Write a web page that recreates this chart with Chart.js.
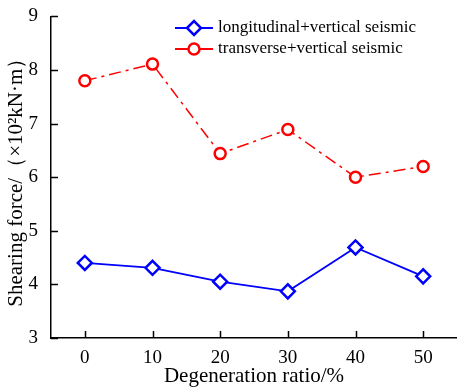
<!DOCTYPE html>
<html>
<head>
<meta charset="utf-8">
<script src="https://cdn.jsdelivr.net/npm/chart.js@4.4.0/dist/chart.umd.min.js"></script>
<style>
  html, body { margin: 0; padding: 0; background: #fff; overflow: hidden; }
</style>
</head>
<body>
<canvas id="chart" width="457" height="389"></canvas>
<script>
// degeneration ratio (%)
const ratios = [0, 10, 20, 30, 40, 50];
// shearing force, x10^2 kN·m
const longitudinal = [4.40, 4.31, 4.05, 3.87, 4.69, 4.15];
const transverse = [7.80, 8.11, 6.44, 6.89, 6.00, 6.20];
const yTicks = [3, 4, 5, 6, 7, 8, 9];
const seriesNames = ['longitudinal+vertical seismic', 'transverse+vertical seismic'];

const serif = "'Liberation Serif', 'Times New Roman', serif";

function toPoints(vals) {
    return ratios.map((r, i) => ({ x: r, y: vals[i] }));
}

// ticks pointing into the plot
const innerTicks = {
    id: 'innerTicks',
    afterDraw(chart) {
        const ctx = chart.ctx;
        const xs = chart.scales.x, ys = chart.scales.y;
        const area = chart.chartArea;
        ctx.save();
        ctx.strokeStyle = '#000';
        ctx.lineWidth = 1.5;
        ctx.beginPath();
        ratios.forEach(r => {
            const px = Math.round(xs.getPixelForValue(r)) + 0.5;
            ctx.moveTo(px, area.bottom);
            ctx.lineTo(px, area.bottom - 7);
        });
        yTicks.forEach(v => {
            const py = Math.round(ys.getPixelForValue(v)) + 0.5;
            ctx.moveTo(area.left, py);
            ctx.lineTo(area.left + 7, py);
        });
        ctx.stroke();
        ctx.restore();
    }
};

// legend with line + marker like the original figure
const lineLegend = {
    id: 'lineLegend',
    afterDraw(chart) {
        const ctx = chart.ctx;
        const x0 = 175, x1 = 213, y0 = 28, gap = 21;
        ctx.save();
        chart.data.datasets.forEach((ds, i) => {
            const y = y0 + i * gap;
            ctx.strokeStyle = ds.borderColor;
            ctx.lineWidth = 2;
            ctx.beginPath();
            ctx.moveTo(x0, y);
            ctx.lineTo(x1, y);
            ctx.stroke();
            ctx.lineWidth = ds.pointBorderWidth;
            ctx.fillStyle = '#fff';
            Chart.helpers.drawPoint(ctx, {
                pointStyle: ds.pointStyle,
                radius: ds.pointRadius,
                borderWidth: ds.pointBorderWidth
            }, (x0 + x1) / 2, y);
            ctx.fillStyle = '#000';
            ctx.font = '17px ' + serif;
            ctx.textBaseline = 'middle';
            ctx.fillText(ds.label, x1 + 5, y);
        });
        ctx.restore();
    }
};

new Chart(document.getElementById('chart'), {
    type: 'line',
    data: {
        datasets: [{
            label: seriesNames[0],
            data: toPoints(longitudinal),
            borderColor: '#0000ff',
            borderWidth: 1.8,
            pointStyle: 'rectRot',
            pointRadius: 7,
            pointBorderWidth: 2.5,
            pointBackgroundColor: '#fff',
            pointBorderColor: '#0000ff',
            tension: 0
        },
        {
            label: seriesNames[1],
            data: toPoints(transverse),
            borderColor: '#ff0000',
            borderWidth: 1.5,
            borderDash: [12, 5, 3, 5],
            pointStyle: 'circle',
            pointRadius: 5.5,
            pointBorderWidth: 2.5,
            pointBackgroundColor: '#fff',
            pointBorderColor: '#ff0000',
            tension: 0
        }]
    },
    options: {
        responsive: false,
        animation: false,
        layout: { autoPadding: false, padding: { top: 15, right: 0, left: 0, bottom: 0 } },
        plugins: {
            legend: { display: false },
            tooltip: { enabled: false }
        },
        scales: {
            x: {
                type: 'linear',
                min: -5,
                max: 55,
                afterBuildTicks: s => { s.ticks = ratios.map(v => ({ value: v })); },
                afterFit: s => { s.height = 51; },
                border: { display: true, color: '#000', width: 1.5 },
                grid: { display: false },
                ticks: { color: '#000', font: { family: serif, size: 19 }, padding: 1, maxRotation: 0 },
                title: {
                    display: true,
                    text: 'Degeneration ratio/%',
                    color: '#000',
                    font: { family: serif, size: 21 },
                    padding: { top: 0, bottom: 0 }
                }
            },
            y: {
                min: 3,
                max: 9,
                afterBuildTicks: s => { s.ticks = yTicks.map(v => ({ value: v })); },
                afterFit: s => { s.width = 51; },
                border: { display: true, color: '#000', width: 1.5 },
                grid: { display: false },
                ticks: { color: '#000', font: { family: serif, size: 19 }, padding: 5 },
                title: {
                    display: true,
                    text: 'Shearing force/（×10²kN·m）',
                    color: '#000',
                    font: { family: serif, size: 21 },
                    padding: { top: 4, bottom: 0 }
                }
            }
        }
    },
    plugins: [innerTicks, lineLegend]
});
</script>
</body>
</html>
